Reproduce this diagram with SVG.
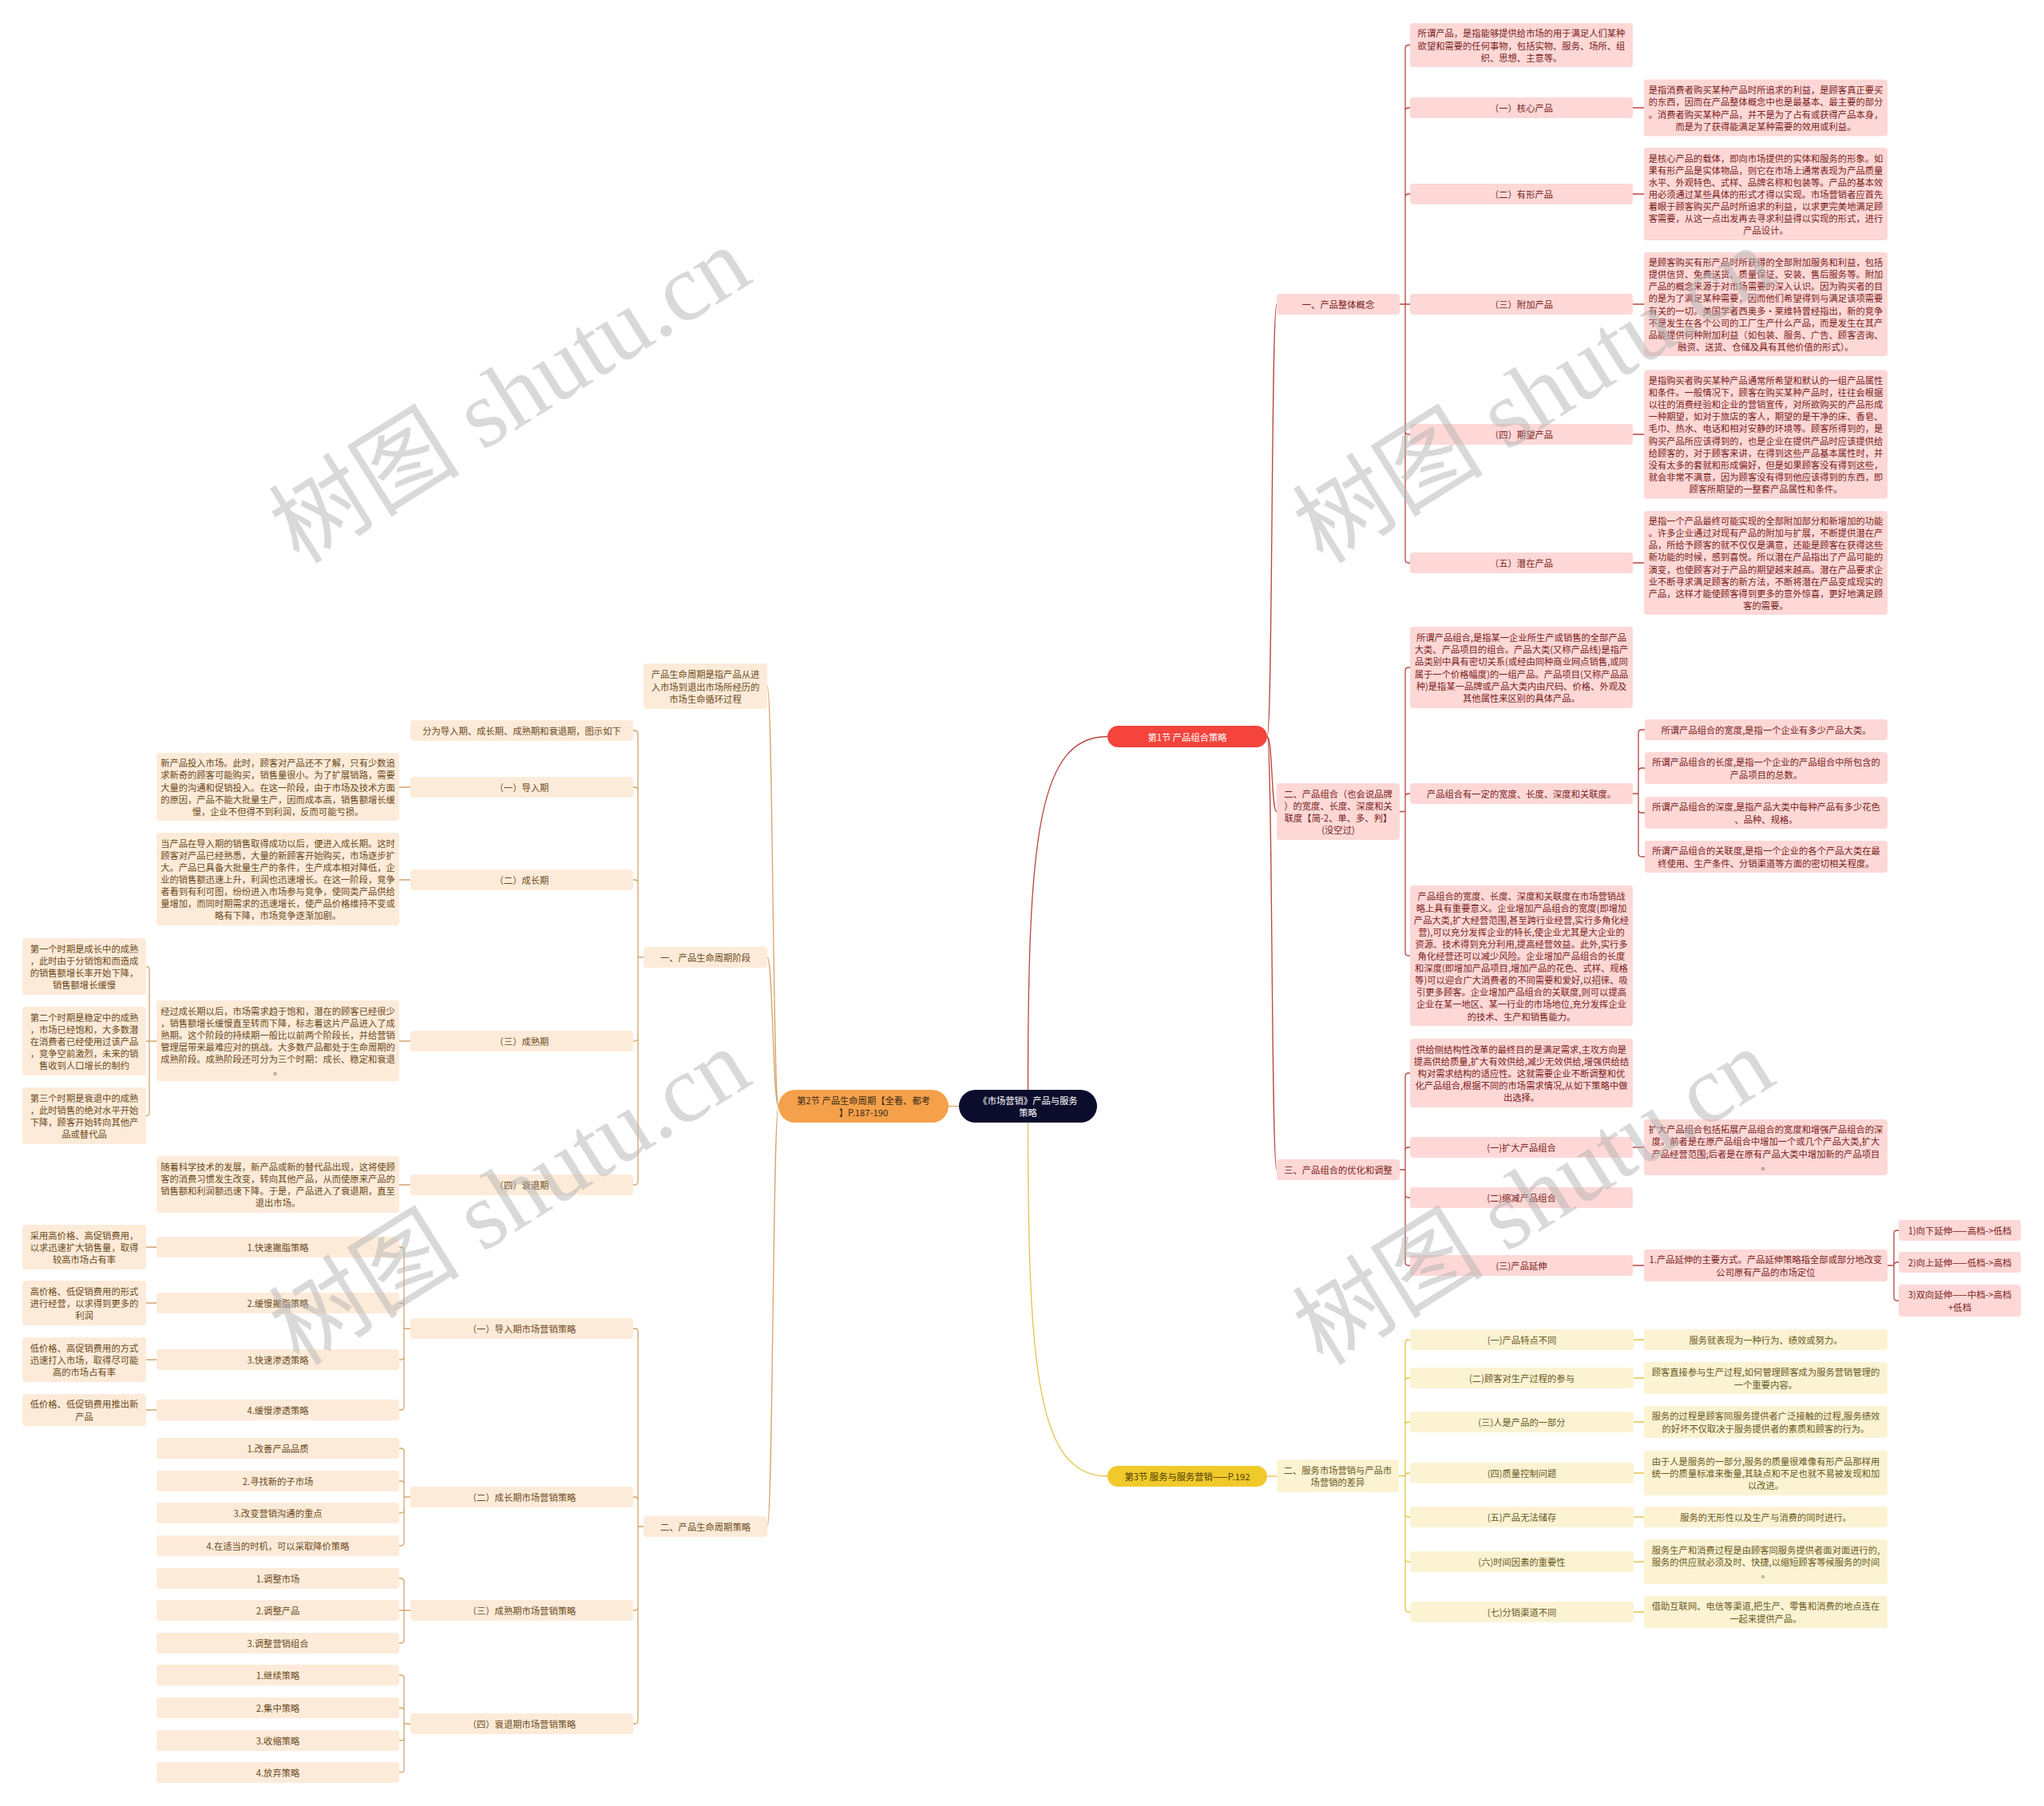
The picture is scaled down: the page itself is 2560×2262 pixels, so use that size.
<svg xmlns="http://www.w3.org/2000/svg" width="2560" height="2262" viewBox="0 0 2560 2262">
<style>
.t{font-family:"Noto Sans CJK SC","Microsoft YaHei",sans-serif;font-size:11.3px;text-anchor:middle;dominant-baseline:central}
.rn{fill:#fdd8d6}.rt{fill:#7a1d1d}
.on{fill:#fdebd9}.ot{fill:#6b4a21}
.yn{fill:#fcf3d3}.yt{fill:#6a5a1e}
.lr,.lo,.ly{fill:none;stroke-width:1.3}
.lr{stroke:#b8453f}.lo{stroke:#d4a46a}.ly{stroke:#e3c548}
.wm{font-family:"Liberation Serif","Noto Sans CJK SC",serif;font-size:120px;fill:#b4b4b4;opacity:0.5}
</style>
<rect width="2560" height="2262" fill="#ffffff"/>

<g id="connectors">
<path class="lr" d="M1287.5,1365C1287.5,1050 1300,922.5 1387,922.5"/>
<path class="ly" d="M1287.5,1406C1287.5,1720 1300,1849 1387,1849"/>
<path class="lo" d="M1201,1385.5H1188"/>
<path class="lr" d="M1587,922.5C1594,922.5 1592,381 1599,381M1587,922.5C1594,922.5 1592,1016.5 1599,1016.5M1587,922.5C1594,922.5 1592,1465 1599,1465"/>
<path class="lr" d="M1753,381H1760V60.5Q1760,56.5 1764,56.5H1766M1753,381H1760V139Q1760,135 1764,135H1766M1753,381H1760V247Q1760,243 1764,243H1766M1753,381H1766M1753,381H1760V540Q1760,544 1764,544H1766M1753,381H1760V701Q1760,705 1764,705H1766"/>
<path class="lr" d="M2045,135H2059M2045,243H2059M2045,381H2059M2045,544H2059M2045,705H2059"/>
<path class="lr" d="M1753,1016.5H1760V840Q1760,836 1764,836H1766M1753,1016.5H1760V998Q1760,994 1764,994H1766M1753,1016.5H1760V1193Q1760,1197 1764,1197H1766"/>
<path class="lr" d="M2045,994H2052V918Q2052,914 2056,914H2060M2045,994H2052V966Q2052,962 2056,962H2060M2045,994H2052V1014Q2052,1018 2056,1018H2060M2045,994H2052V1069Q2052,1073 2056,1073H2060"/>
<path class="lr" d="M1753,1465H1760V1348Q1760,1344 1764,1344H1766M1753,1465H1760V1441Q1760,1437 1764,1437H1766M1753,1465H1760V1496Q1760,1500 1764,1500H1766M1753,1465H1760V1581Q1760,1585 1764,1585H1766"/>
<path class="lr" d="M2045,1437H2059M2045,1585H2059"/>
<path class="lr" d="M2364,1585H2372V1545Q2372,1541 2376,1541H2378M2364,1585H2372Q2372,1581 2376,1581H2378M2364,1585H2372V1625Q2372,1629 2376,1629H2378"/>
<path class="ly" d="M1587,1849H1599"/>
<path class="ly" d="M1752,1848.5H1760V1682Q1760,1678 1764,1678H1766M1752,1848.5H1760V1730Q1760,1726 1764,1726H1766M1752,1848.5H1760V1785Q1760,1781 1764,1781H1766M1752,1848.5H1760Q1760,1845 1764,1845H1766M1752,1848.5H1760V1896Q1760,1900 1764,1900H1766M1752,1848.5H1760V1952Q1760,1956 1764,1956H1766M1752,1848.5H1760V2015Q1760,2019 1764,2019H1766"/>
<path class="ly" d="M2046,1678H2059M2046,1726H2059M2046,1781H2059M2046,1845H2059M2046,1900H2059M2046,1956H2059M2046,2019H2059"/>
<path class="lo" d="M975,1385.5C968,1385.5 968,859.5 961,859.5M975,1385.5C968,1385.5 968,1199 961,1199M975,1385.5C968,1385.5 968,1912 961,1912"/>
<path class="lo" d="M806,1199H799V919Q799,915 795,915H793M806,1199H799V990Q799,986 795,986H793M806,1199H799V1106Q799,1102 795,1102H793M806,1199H799V1300Q799,1304 795,1304H793M806,1199H799V1480Q799,1484 795,1484H793"/>
<path class="lo" d="M514,986H500M514,1102H500M514,1304H500M514,1484H500"/>
<path class="lo" d="M196,1304H187V1214.5Q187,1210.5 183,1210.5M196,1304H183M196,1304H187V1393.5Q187,1397.5 183,1397.5"/>
<path class="lo" d="M806,1912H799V1668Q799,1664 795,1664H793M806,1912H799V1879Q799,1875 795,1875H793M806,1912H799V2013Q799,2017 795,2017H793M806,1912H799V2155Q799,2159 795,2159H793"/>
<path class="lo" d="M514,1664H506V1566Q506,1562 502,1562H500M514,1664H506V1636Q506,1632 502,1632H500M514,1664H506V1699Q506,1703 502,1703H500M514,1664H506V1762Q506,1766 502,1766H500"/>
<path class="lo" d="M196,1562H183M196,1632H183M196,1703H183M196,1766H183"/>
<path class="lo" d="M514,1875H506V1818Q506,1814 502,1814H500M514,1875H506V1859Q506,1855 502,1855H500M514,1875H506V1891Q506,1895 502,1895H500M514,1875H506V1932Q506,1936 502,1936H500"/>
<path class="lo" d="M514,2017H506V1981Q506,1977 502,1977H500M514,2017H500M514,2017H506V2054Q506,2058 502,2058H500"/>
<path class="lo" d="M514,2159H506V2102Q506,2098 502,2098H500M514,2159H506V2143Q506,2139 502,2139H500M514,2159H506V2176Q506,2180 502,2180H500M514,2159H506V2216Q506,2220 502,2220H500"/>
</g>

<g id="root"><rect x="1201" y="1365" width="173" height="41" rx="20.5" fill="#0c0c2c"/><text class="t" fill="#ffffff" x="1287.5"><tspan x="1287.5" y="1377.95">《市场营销》产品与服务</tspan><tspan x="1287.5" y="1393.05">策略</tspan></text></g>

<g id="sec1"><rect x="1387" y="909" width="200" height="27" rx="13.5" fill="#f4443c"/><text class="t" fill="#ffffff" x="1487" y="922.5">第1节 产品组合策略</text></g>
<g id="sec2"><rect x="975" y="1365" width="213" height="41" rx="20.5" fill="#f5a04b"/><text class="t" fill="#3b2a14"><tspan x="1081.5" y="1377.95">第2节 产品生命周期【全看、都考</tspan><tspan x="1081.5" y="1393.05">】P.187-190</tspan></text></g>
<g id="sec3"><rect x="1387" y="1836" width="200" height="26" rx="13" fill="#f0c92b"/><text class="t" fill="#4d3d07" x="1487" y="1849">第3节 服务与服务营销——P.192</text></g>

<!-- Section 1 -->
<g id="r-1"><rect class="rn" x="1599" y="368" width="154" height="26" rx="4"/><text class="t rt" x="1676" y="381">一、产品整体概念</text></g>
<g id="r-1-0"><rect class="rn" x="1766" y="29" width="279" height="55" rx="4"/><text class="t rt"><tspan x="1905.5" y="41.4">所谓产品，是指能够提供给市场的用于满足人们某种</tspan><tspan x="1905.5" y="56.5">欲望和需要的任何事物，包括实物、服务、场所、组</tspan><tspan x="1905.5" y="71.6">织、思想、主意等。</tspan></text></g>
<g id="r-1-1"><rect class="rn" x="1766" y="122" width="279" height="26" rx="4"/><text class="t rt" x="1905.5" y="135">（一）核心产品</text></g>
<g id="r-1-1d"><rect class="rn" x="2059" y="99.5" width="305" height="71" rx="4"/><text class="t rt"><tspan x="2211.5" y="112.35">是指消费者购买某种产品时所追求的利益，是顾客真正要买</tspan><tspan x="2211.5" y="127.45">的东西，因而在产品整体概念中也是最基本、最主要的部分</tspan><tspan x="2211.5" y="142.55">。消费者购买某种产品，并不是为了占有或获得产品本身，</tspan><tspan x="2211.5" y="157.65">而是为了获得能满足某种需要的效用或利益。</tspan></text></g>
<g id="r-1-2"><rect class="rn" x="1766" y="230" width="279" height="26" rx="4"/><text class="t rt" x="1905.5" y="243">（二）有形产品</text></g>
<g id="r-1-2d"><rect class="rn" x="2059" y="185" width="305" height="116" rx="4"/><text class="t rt"><tspan x="2211.5" y="197.7">是核心产品的载体，即向市场提供的实体和服务的形象。如</tspan><tspan x="2211.5" y="212.8">果有形产品是实体物品，则它在市场上通常表现为产品质量</tspan><tspan x="2211.5" y="227.9">水平、外观特色、式样、品牌名称和包装等。产品的基本效</tspan><tspan x="2211.5" y="243">用必须通过某些具体的形式才得以实现。市场营销者应首先</tspan><tspan x="2211.5" y="258.1">着眼于顾客购买产品时所追求的利益，以求更完美地满足顾</tspan><tspan x="2211.5" y="273.2">客需要，从这一点出发再去寻求利益得以实现的形式，进行</tspan><tspan x="2211.5" y="288.3">产品设计。</tspan></text></g>
<g id="r-1-3"><rect class="rn" x="1766" y="368" width="279" height="26" rx="4"/><text class="t rt" x="1905.5" y="381">（三）附加产品</text></g>
<g id="r-1-3d"><rect class="rn" x="2059" y="316" width="305" height="130" rx="4"/><text class="t rt"><tspan x="2211.5" y="328.15">是顾客购买有形产品时所获得的全部附加服务和利益，包括</tspan><tspan x="2211.5" y="343.25">提供信贷、免费送货、质量保证、安装、售后服务等。附加</tspan><tspan x="2211.5" y="358.35">产品的概念来源于对市场需要的深入认识。因为购买者的目</tspan><tspan x="2211.5" y="373.45">的是为了满足某种需要，因而他们希望得到与满足该项需要</tspan><tspan x="2211.5" y="388.55">有关的一切。美国学者西奥多·莱维特曾经指出，新的竞争</tspan><tspan x="2211.5" y="403.65">不是发生在各个公司的工厂生产什么产品，而是发生在其产</tspan><tspan x="2211.5" y="418.75">品能提供何种附加利益（如包装、服务、广告、顾客咨询、</tspan><tspan x="2211.5" y="433.85">融资、送货、仓储及具有其他价值的形式）。</tspan></text></g>
<g id="r-1-4"><rect class="rn" x="1766" y="531" width="279" height="26" rx="4"/><text class="t rt" x="1905.5" y="544">（四）期望产品</text></g>
<g id="r-1-4d"><rect class="rn" x="2059" y="463.5" width="305" height="161" rx="4"/><text class="t rt"><tspan x="2211.5" y="476.05">是指购买者购买某种产品通常所希望和默认的一组产品属性</tspan><tspan x="2211.5" y="491.15">和条件。一般情况下，顾客在购买某种产品时，往往会根据</tspan><tspan x="2211.5" y="506.25">以往的消费经验和企业的营销宣传，对所欲购买的产品形成</tspan><tspan x="2211.5" y="521.35">一种期望，如对于旅店的客人，期望的是干净的床、香皂、</tspan><tspan x="2211.5" y="536.45">毛巾、热水、电话和相对安静的环境等。顾客所得到的，是</tspan><tspan x="2211.5" y="551.55">购买产品所应该得到的，也是企业在提供产品时应该提供给</tspan><tspan x="2211.5" y="566.65">给顾客的，对于顾客来讲，在得到这些产品基本属性时，并</tspan><tspan x="2211.5" y="581.75">没有太多的套就和形成偏好，但是如果顾客没有得到这些，</tspan><tspan x="2211.5" y="596.85">就会非常不满意，因为顾客没有得到他应该得到的东西，即</tspan><tspan x="2211.5" y="611.95">顾客所期望的一整套产品属性和条件。</tspan></text></g>
<g id="r-1-5"><rect class="rn" x="1766" y="692" width="279" height="26" rx="4"/><text class="t rt" x="1905.5" y="705">（五）潜在产品</text></g>
<g id="r-1-5d"><rect class="rn" x="2059" y="640" width="305" height="130" rx="4"/><text class="t rt"><tspan x="2211.5" y="652.15">是指一个产品最终可能实现的全部附加部分和新增加的功能</tspan><tspan x="2211.5" y="667.25">。许多企业通过对现有产品的附加与扩展，不断提供潜在产</tspan><tspan x="2211.5" y="682.35">品，所给予顾客的就不仅仅是满意，还能是顾客在获得这些</tspan><tspan x="2211.5" y="697.45">新功能的时候，感到喜悦。所以潜在产品指出了产品可能的</tspan><tspan x="2211.5" y="712.55">演变，也使顾客对于产品的期望越来越高。潜在产品要求企</tspan><tspan x="2211.5" y="727.65">业不断寻求满足顾客的新方法，不断将潜在产品变成现实的</tspan><tspan x="2211.5" y="742.75">产品，这样才能使顾客得到更多的意外惊喜，更好地满足顾</tspan><tspan x="2211.5" y="757.85">客的需要。</tspan></text></g>

<g id="r-2"><rect class="rn" x="1599" y="981" width="154" height="71" rx="4"/><text class="t rt"><tspan x="1676" y="993.85">二、产品组合（也会说品牌</tspan><tspan x="1676" y="1008.95">）的宽度、长度、深度和关</tspan><tspan x="1676" y="1024.05">联度【简-2、单、多、判】</tspan><tspan x="1676" y="1039.15">(没空过)</tspan></text></g>
<g id="r-2-1"><rect class="rn" x="1766" y="785" width="279" height="102" rx="4"/><text class="t rt"><tspan x="1905.5" y="798.25">所谓产品组合,是指某一企业所生产或销售的全部产品</tspan><tspan x="1905.5" y="813.35">大类、产品项目的组合。产品大类(又称产品线)是指产</tspan><tspan x="1905.5" y="828.45">品类别中具有密切关系(或经由同种商业网点销售,或同</tspan><tspan x="1905.5" y="843.55">属于一个价格幅度)的一组产品。产品项目(又称产品品</tspan><tspan x="1905.5" y="858.65">种)是指某一品牌或产品大类内由尺码、价格、外观及</tspan><tspan x="1905.5" y="873.75">其他属性来区别的具体产品。</tspan></text></g>
<g id="r-2-2"><rect class="rn" x="1766" y="981" width="279" height="26" rx="4"/><text class="t rt" x="1905.5" y="994">产品组合有一定的宽度、长度、深度和关联度。</text></g>
<g id="r-2-2a"><rect class="rn" x="2060" y="901" width="304" height="26" rx="4"/><text class="t rt" x="2212" y="914">所谓产品组合的宽度,是指一个企业有多少产品大类。</text></g>
<g id="r-2-2b"><rect class="rn" x="2060" y="942" width="304" height="40" rx="4"/><text class="t rt"><tspan x="2212" y="954.45">所谓产品组合的长度,是指一个企业的产品组合中所包含的</tspan><tspan x="2212" y="969.55">产品项目的总数。</tspan></text></g>
<g id="r-2-2c"><rect class="rn" x="2060" y="998" width="304" height="40" rx="4"/><text class="t rt"><tspan x="2212" y="1010.45">所谓产品组合的深度,是指产品大类中每种产品有多少花色</tspan><tspan x="2212" y="1025.55">、品种、规格。</tspan></text></g>
<g id="r-2-2d"><rect class="rn" x="2060" y="1053" width="304" height="40" rx="4"/><text class="t rt"><tspan x="2212" y="1065.45">所谓产品组合的关联度,是指一个企业的各个产品大类在最</tspan><tspan x="2212" y="1080.55">终使用、生产条件、分销渠道等方面的密切相关程度。</tspan></text></g>
<g id="r-2-3"><rect class="rn" x="1766" y="1109" width="279" height="176" rx="4"/><text class="t rt"><tspan x="1905.5" y="1121.5">产品组合的宽度、长度、深度和关联度在市场营销战</tspan><tspan x="1905.5" y="1136.6">略上具有重要意义。企业增加产品组合的宽度(即增加</tspan><tspan x="1905.5" y="1151.7">产品大类,扩大经营范围,甚至跨行业经营,实行多角化经</tspan><tspan x="1905.5" y="1166.8">营),可以充分发挥企业的特长,使企业尤其是大企业的</tspan><tspan x="1905.5" y="1181.9">资源、技术得到充分利用,提高经营效益。此外,实行多</tspan><tspan x="1905.5" y="1197">角化经营还可以减少风险。企业增加产品组合的长度</tspan><tspan x="1905.5" y="1212.1">和深度(即增加产品项目,增加产品的花色、式样、规格</tspan><tspan x="1905.5" y="1227.2">等)可以迎合广大消费者的不同需要和爱好,以招徕、吸</tspan><tspan x="1905.5" y="1242.3">引更多顾客。企业增加产品组合的关联度,则可以提高</tspan><tspan x="1905.5" y="1257.4">企业在某一地区、某一行业的市场地位,充分发挥企业</tspan><tspan x="1905.5" y="1272.5">的技术、生产和销售能力。</tspan></text></g>

<g id="r-3"><rect class="rn" x="1599" y="1452" width="154" height="26" rx="4"/><text class="t rt" x="1676" y="1465">三、产品组合的优化和调整</text></g>
<g id="r-3-0"><rect class="rn" x="1766" y="1301" width="279" height="86" rx="4"/><text class="t rt"><tspan x="1905.5" y="1313.8">供给侧结构性改革的最终目的是满足需求,主攻方向是</tspan><tspan x="1905.5" y="1328.9">提高供给质量,扩大有效供给,减少无效供给,增强供给结</tspan><tspan x="1905.5" y="1344">构对需求结构的适应性。这就需要企业不断调整和优</tspan><tspan x="1905.5" y="1359.1">化产品组合,根据不同的市场需求情况,从如下策略中做</tspan><tspan x="1905.5" y="1374.2">出选择。</tspan></text></g>
<g id="r-3-1"><rect class="rn" x="1766" y="1424" width="279" height="26" rx="4"/><text class="t rt" x="1905.5" y="1437">(一)扩大产品组合</text></g>
<g id="r-3-1d"><rect class="rn" x="2059" y="1402" width="305" height="70" rx="4"/><text class="t rt"><tspan x="2211.5" y="1414.35">扩大产品组合包括拓展产品组合的宽度和增强产品组合的深</tspan><tspan x="2211.5" y="1429.45">度。前者是在原产品组合中增加一个或几个产品大类,扩大</tspan><tspan x="2211.5" y="1444.55">产品经营范围;后者是在原有产品大类中增加新的产品项目</tspan><tspan x="2211.5" y="1459.65">。</tspan></text></g>
<g id="r-3-2"><rect class="rn" x="1766" y="1487" width="279" height="26" rx="4"/><text class="t rt" x="1905.5" y="1500">(二)缩减产品组合</text></g>
<g id="r-3-3"><rect class="rn" x="1766" y="1572" width="279" height="26" rx="4"/><text class="t rt" x="1905.5" y="1585">(三)产品延伸</text></g>
<g id="r-3-3d"><rect class="rn" x="2059" y="1565" width="305" height="40" rx="4"/><text class="t rt"><tspan x="2211.5" y="1577.45">1.产品延伸的主要方式。产品延伸策略指全部或部分地改变</tspan><tspan x="2211.5" y="1592.55">公司原有产品的市场定位</tspan></text></g>
<g id="r-3-3d1"><rect class="rn" x="2378" y="1528" width="153" height="26" rx="4"/><text class="t rt" x="2454.5" y="1541">1)向下延伸——高档-&gt;低档</text></g>
<g id="r-3-3d2"><rect class="rn" x="2378" y="1568" width="153" height="26" rx="4"/><text class="t rt" x="2454.5" y="1581">2)向上延伸——低档-&gt;高档</text></g>
<g id="r-3-3d3"><rect class="rn" x="2378" y="1609" width="153" height="40" rx="4"/><text class="t rt"><tspan x="2454.5" y="1621.45">3)双向延伸——中档-&gt;高档</tspan><tspan x="2454.5" y="1636.55">+低档</tspan></text></g>

<!-- Section 3 -->
<g id="y-1"><rect class="yn" x="1599" y="1828" width="153" height="41" rx="4"/><text class="t yt"><tspan x="1675.5" y="1840.95">二、服务市场营销与产品市</tspan><tspan x="1675.5" y="1856.05">场营销的差异</tspan></text></g>
<g id="y-1-1"><rect class="yn" x="1766" y="1665" width="280" height="26" rx="4"/><text class="t yt" x="1906" y="1678">(一)产品特点不同</text></g>
<g id="y-1-1d"><rect class="yn" x="2059" y="1665" width="305" height="26" rx="4"/><text class="t yt" x="2211.5" y="1678">服务就表现为一种行为、绩效或努力。</text></g>
<g id="y-1-2"><rect class="yn" x="1766" y="1713" width="280" height="26" rx="4"/><text class="t yt" x="1906" y="1726">(二)顾客对生产过程的参与</text></g>
<g id="y-1-2d"><rect class="yn" x="2059" y="1706" width="305" height="40" rx="4"/><text class="t yt"><tspan x="2211.5" y="1718.45">顾客直接参与生产过程,如何管理顾客成为服务营销管理的</tspan><tspan x="2211.5" y="1733.55">一个重要内容。</tspan></text></g>
<g id="y-1-3"><rect class="yn" x="1766" y="1768" width="280" height="26" rx="4"/><text class="t yt" x="1906" y="1781">(三)人是产品的一部分</text></g>
<g id="y-1-3d"><rect class="yn" x="2059" y="1761" width="305" height="40" rx="4"/><text class="t yt"><tspan x="2211.5" y="1773.45">服务的过程是顾客同服务提供者广泛接触的过程,服务绩效</tspan><tspan x="2211.5" y="1788.55">的好坏不仅取决于服务提供者的素质和顾客的行为。</tspan></text></g>
<g id="y-1-4"><rect class="yn" x="1766" y="1832" width="280" height="26" rx="4"/><text class="t yt" x="1906" y="1845">(四)质量控制问题</text></g>
<g id="y-1-4d"><rect class="yn" x="2059" y="1817" width="305" height="56" rx="4"/><text class="t yt"><tspan x="2211.5" y="1829.9">由于人是服务的一部分,服务的质量很难像有形产品那样用</tspan><tspan x="2211.5" y="1845">统一的质量标准来衡量,其缺点和不足也就不易被发现和加</tspan><tspan x="2211.5" y="1860.1">以改进。</tspan></text></g>
<g id="y-1-5"><rect class="yn" x="1766" y="1887" width="280" height="26" rx="4"/><text class="t yt" x="1906" y="1900">(五)产品无法储存</text></g>
<g id="y-1-5d"><rect class="yn" x="2059" y="1887" width="305" height="26" rx="4"/><text class="t yt" x="2211.5" y="1900">服务的无形性以及生产与消费的同时进行。</text></g>
<g id="y-1-6"><rect class="yn" x="1766" y="1943" width="280" height="26" rx="4"/><text class="t yt" x="1906" y="1956">(六)时间因素的重要性</text></g>
<g id="y-1-6d"><rect class="yn" x="2059" y="1928" width="305" height="56" rx="4"/><text class="t yt"><tspan x="2211.5" y="1940.9">服务生产和消费过程是由顾客同服务提供者面对面进行的,</tspan><tspan x="2211.5" y="1956">服务的供应就必须及时、快捷,以缩短顾客等候服务的时间</tspan><tspan x="2211.5" y="1971.1">。</tspan></text></g>
<g id="y-1-7"><rect class="yn" x="1766" y="2006" width="280" height="26" rx="4"/><text class="t yt" x="1906" y="2019">(七)分销渠道不同</text></g>
<g id="y-1-7d"><rect class="yn" x="2059" y="1999" width="305" height="40" rx="4"/><text class="t yt"><tspan x="2211.5" y="2011.45">借助互联网、电信等渠道,把生产、零售和消费的地点连在</tspan><tspan x="2211.5" y="2026.55">一起来提供产品。</tspan></text></g>

<!-- Section 2 -->
<g id="o-0"><rect class="on" x="806" y="831" width="155" height="57" rx="4"/><text class="t ot"><tspan x="883.5" y="844.4">产品生命周期是指产品从进</tspan><tspan x="883.5" y="859.5">入市场到退出市场所经历的</tspan><tspan x="883.5" y="874.6">市场生命循环过程</tspan></text></g>
<g id="o-1"><rect class="on" x="806" y="1186" width="155" height="26" rx="4"/><text class="t ot" x="883.5" y="1199">一、产品生命周期阶段</text></g>
<g id="o-1-0"><rect class="on" x="514" y="902" width="279" height="26" rx="4"/><text class="t ot" x="653.5" y="915">分为导入期、成长期、成熟期和衰退期，图示如下</text></g>
<g id="o-1-1"><rect class="on" x="514" y="973" width="279" height="26" rx="4"/><text class="t ot" x="653.5" y="986">（一）导入期</text></g>
<g id="o-1-1d"><rect class="on" x="196" y="943" width="304" height="85" rx="4"/><text class="t ot"><tspan x="348" y="955.3">新产品投入市场。此时，顾客对产品还不了解，只有少数追</tspan><tspan x="348" y="970.4">求新奇的顾客可能购买，销售量很小。为了扩展销路，需要</tspan><tspan x="348" y="985.5">大量的沟通和促销投入。在这一阶段，由于市场及技术方面</tspan><tspan x="348" y="1000.6">的原因，产品不能大批量生产，因而成本高，销售额增长缓</tspan><tspan x="348" y="1015.7">慢，企业不但得不到利润，反而可能亏损。</tspan></text></g>
<g id="o-1-2"><rect class="on" x="514" y="1089" width="279" height="26" rx="4"/><text class="t ot" x="653.5" y="1102">（二）成长期</text></g>
<g id="o-1-2d"><rect class="on" x="196" y="1043" width="304" height="116" rx="4"/><text class="t ot"><tspan x="348" y="1055.7">当产品在导入期的销售取得成功以后，便进入成长期。这时</tspan><tspan x="348" y="1070.8">顾客对产品已经熟悉，大量的新顾客开始购买，市场逐步扩</tspan><tspan x="348" y="1085.9">大。产品已具备大批量生产的条件，生产成本相对降低，企</tspan><tspan x="348" y="1101">业的销售额迅速上升，利润也迅速增长。在这一阶段，竞争</tspan><tspan x="348" y="1116.1">者看到有利可图，纷纷进入市场参与竞争，使同类产品供给</tspan><tspan x="348" y="1131.2">量增加，而同时期需求的迅速增长，使产品价格维持不变或</tspan><tspan x="348" y="1146.3">略有下降，市场竞争逐渐加剧。</tspan></text></g>
<g id="o-1-3"><rect class="on" x="514" y="1291" width="279" height="26" rx="4"/><text class="t ot" x="653.5" y="1304">（三）成熟期</text></g>
<g id="o-1-3d"><rect class="on" x="196" y="1253" width="304" height="101" rx="4"/><text class="t ot"><tspan x="348" y="1265.75">经过成长期以后，市场需求趋于饱和，潜在的顾客已经很少</tspan><tspan x="348" y="1280.85">，销售额增长缓慢直至转而下降，标志着这片产品进入了成</tspan><tspan x="348" y="1295.95">熟期。这个阶段的持续期一般比以前两个阶段长，并给营销</tspan><tspan x="348" y="1311.05">管理层带来最难应对的挑战。大多数产品都处于生命周期的</tspan><tspan x="348" y="1326.15">成熟阶段。成熟阶段还可分为三个时期：成长、稳定和衰退</tspan><tspan x="348" y="1341.25">。</tspan></text></g>
<g id="o-1-3a"><rect class="on" x="28" y="1175" width="155" height="71" rx="4"/><text class="t ot"><tspan x="105.5" y="1187.85">第一个时期是成长中的成熟</tspan><tspan x="105.5" y="1202.95">，此时由于分销饱和而造成</tspan><tspan x="105.5" y="1218.05">的销售额增长率开始下降，</tspan><tspan x="105.5" y="1233.15">销售额增长缓慢</tspan></text></g>
<g id="o-1-3b"><rect class="on" x="28" y="1261" width="155" height="86" rx="4"/><text class="t ot"><tspan x="105.5" y="1273.8">第二个时期是稳定中的成熟</tspan><tspan x="105.5" y="1288.9">，市场已经饱和，大多数潜</tspan><tspan x="105.5" y="1304">在消费者已经使用过该产品</tspan><tspan x="105.5" y="1319.1">，竞争空前激烈，未来的销</tspan><tspan x="105.5" y="1334.2">售收到人口增长的制约</tspan></text></g>
<g id="o-1-3c"><rect class="on" x="28" y="1362" width="155" height="71" rx="4"/><text class="t ot"><tspan x="105.5" y="1374.85">第三个时期是衰退中的成熟</tspan><tspan x="105.5" y="1389.95">，此时销售的绝对水平开始</tspan><tspan x="105.5" y="1405.05">下降，顾客开始转向其他产</tspan><tspan x="105.5" y="1420.15">品或替代品</tspan></text></g>
<g id="o-1-4"><rect class="on" x="514" y="1471" width="279" height="26" rx="4"/><text class="t ot" x="653.5" y="1484">（四）衰退期</text></g>
<g id="o-1-4d"><rect class="on" x="196" y="1448" width="304" height="71" rx="4"/><text class="t ot"><tspan x="348" y="1460.85">随着科学技术的发展，新产品或新的替代品出现，这将使顾</tspan><tspan x="348" y="1475.95">客的消费习惯发生改变，转向其他产品，从而使原来产品的</tspan><tspan x="348" y="1491.05">销售额和利润额迅速下降。于是，产品进入了衰退期，直至</tspan><tspan x="348" y="1506.15">退出市场。</tspan></text></g>

<g id="o-2"><rect class="on" x="806" y="1899" width="155" height="26" rx="4"/><text class="t ot" x="883.5" y="1912">二、产品生命周期策略</text></g>
<g id="o-2-1"><rect class="on" x="514" y="1651" width="279" height="26" rx="4"/><text class="t ot" x="653.5" y="1664">（一）导入期市场营销策略</text></g>
<g id="o-2-1a"><rect class="on" x="196" y="1549" width="304" height="26" rx="4"/><text class="t ot" x="348" y="1562">1.快速撇脂策略</text></g>
<g id="o-2-1ad"><rect class="on" x="28" y="1534" width="155" height="56" rx="4"/><text class="t ot"><tspan x="105.5" y="1546.9">采用高价格、高促销费用，</tspan><tspan x="105.5" y="1562">以求迅速扩大销售量，取得</tspan><tspan x="105.5" y="1577.1">较高市场占有率</tspan></text></g>
<g id="o-2-1b"><rect class="on" x="196" y="1619" width="304" height="26" rx="4"/><text class="t ot" x="348" y="1632">2.缓慢撇脂策略</text></g>
<g id="o-2-1bd"><rect class="on" x="28" y="1604" width="155" height="56" rx="4"/><text class="t ot"><tspan x="105.5" y="1616.9">高价格、低促销费用的形式</tspan><tspan x="105.5" y="1632">进行经营，以求得到更多的</tspan><tspan x="105.5" y="1647.1">利润</tspan></text></g>
<g id="o-2-1c"><rect class="on" x="196" y="1690" width="304" height="26" rx="4"/><text class="t ot" x="348" y="1703">3.快速渗透策略</text></g>
<g id="o-2-1cd"><rect class="on" x="28" y="1675" width="155" height="56" rx="4"/><text class="t ot"><tspan x="105.5" y="1687.9">低价格、高促销费用的方式</tspan><tspan x="105.5" y="1703">迅速打入市场，取得尽可能</tspan><tspan x="105.5" y="1718.1">高的市场占有率</tspan></text></g>
<g id="o-2-1d"><rect class="on" x="196" y="1753" width="304" height="26" rx="4"/><text class="t ot" x="348" y="1766">4.缓慢渗透策略</text></g>
<g id="o-2-1dd"><rect class="on" x="28" y="1746" width="155" height="40" rx="4"/><text class="t ot"><tspan x="105.5" y="1758.45">低价格、低促销费用推出新</tspan><tspan x="105.5" y="1773.55">产品</tspan></text></g>
<g id="o-2-2"><rect class="on" x="514" y="1862" width="279" height="26" rx="4"/><text class="t ot" x="653.5" y="1875">（二）成长期市场营销策略</text></g>
<g id="o-2-2a"><rect class="on" x="196" y="1801" width="304" height="26" rx="4"/><text class="t ot" x="348" y="1814">1.改善产品品质</text></g>
<g id="o-2-2b"><rect class="on" x="196" y="1842" width="304" height="26" rx="4"/><text class="t ot" x="348" y="1855">2.寻找新的子市场</text></g>
<g id="o-2-2c"><rect class="on" x="196" y="1882" width="304" height="26" rx="4"/><text class="t ot" x="348" y="1895">3.改变营销沟通的重点</text></g>
<g id="o-2-2d"><rect class="on" x="196" y="1923" width="304" height="26" rx="4"/><text class="t ot" x="348" y="1936">4.在适当的时机，可以采取降价策略</text></g>
<g id="o-2-3"><rect class="on" x="514" y="2004" width="279" height="26" rx="4"/><text class="t ot" x="653.5" y="2017">（三）成熟期市场营销策略</text></g>
<g id="o-2-3a"><rect class="on" x="196" y="1964" width="304" height="26" rx="4"/><text class="t ot" x="348" y="1977">1.调整市场</text></g>
<g id="o-2-3b"><rect class="on" x="196" y="2004" width="304" height="26" rx="4"/><text class="t ot" x="348" y="2017">2.调整产品</text></g>
<g id="o-2-3c"><rect class="on" x="196" y="2045" width="304" height="26" rx="4"/><text class="t ot" x="348" y="2058">3.调整营销组合</text></g>
<g id="o-2-4"><rect class="on" x="514" y="2146" width="279" height="26" rx="4"/><text class="t ot" x="653.5" y="2159">（四）衰退期市场营销策略</text></g>
<g id="o-2-4a"><rect class="on" x="196" y="2085" width="304" height="26" rx="4"/><text class="t ot" x="348" y="2098">1.继续策略</text></g>
<g id="o-2-4b"><rect class="on" x="196" y="2126" width="304" height="26" rx="4"/><text class="t ot" x="348" y="2139">2.集中策略</text></g>
<g id="o-2-4c"><rect class="on" x="196" y="2167" width="304" height="26" rx="4"/><text class="t ot" x="348" y="2180">3.收缩策略</text></g>
<g id="o-2-4d"><rect class="on" x="196" y="2207" width="304" height="26" rx="4"/><text class="t ot" x="348" y="2220">4.放弃策略</text></g>

<g id="watermarks">
<text class="wm" transform="translate(375,708) rotate(-32)">树图 shutu.cn</text>
<text class="wm" transform="translate(375,1712) rotate(-32)">树图 shutu.cn</text>
<text class="wm" transform="translate(1657,708) rotate(-32)">树图 shutu.cn</text>
<text class="wm" transform="translate(1657,1712) rotate(-32)">树图 shutu.cn</text>
</g>
</svg>
